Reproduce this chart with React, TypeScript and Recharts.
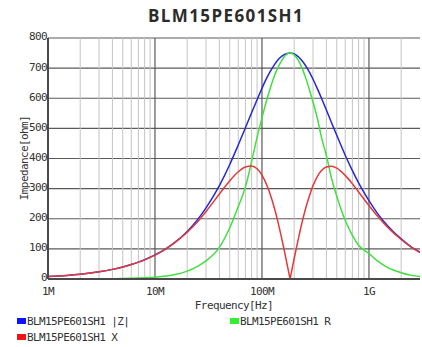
import React from 'react';
import { LineChart, Line, XAxis, YAxis, CartesianGrid, ReferenceLine } from 'recharts';

const title = 'BLM15PE601SH1';
const seriesNames = ['BLM15PE601SH1 |Z|', 'BLM15PE601SH1 R', 'BLM15PE601SH1 X'];

// frequency in MHz
const freqMHz = [1, 1.5, 2, 3, 4, 5, 6, 7, 8, 10, 12, 15, 20, 25, 30, 40, 50, 60, 70, 80, 90, 100, 110, 120, 130, 140, 150, 160, 170, 176, 180, 183, 186, 190, 200, 220, 240, 260, 280, 300, 330, 360, 400, 450, 500, 600, 700, 800, 1000, 1200, 1500, 2000, 2500, 3000];

const zValues = [8, 12, 16, 24, 32, 40, 48, 56, 64, 80, 95, 119, 158, 197, 236, 310, 380, 445, 502, 552, 595, 633, 665, 690, 710, 726, 737, 744, 748, 749.5, 750, 750, 750, 749.5, 747, 737, 722, 704, 684, 663, 631, 600, 561, 516, 477, 411, 360, 319, 260, 218, 176, 133, 106, 89];

const rValues = [0.1, 0.2, 0.3, 0.6, 1, 1.5, 2.2, 3, 4, 6, 9, 14, 26, 42, 60, 105, 170, 240, 305, 390, 470, 535, 590, 635, 672, 700, 720, 736, 746, 749, 750, 750, 750, 749, 744, 724, 695, 661, 624, 587, 532, 470, 410, 330, 275, 195, 145, 112, 85, 60, 38, 21, 12, 8.5];

const xValues = [8, 12, 16, 24, 32, 40, 48, 56, 63.6, 79, 95, 118, 155, 190, 224, 282, 326, 356, 372, 375, 366, 345, 315, 279, 238, 194, 148, 102, 56.5, 30, 12.7, 0, 12.5, 29, 68, 137.5, 196, 243, 280, 310, 341, 360, 372, 374.5, 368, 344, 316, 289, 244, 209, 171, 131, 105, 88];

const xTicks = [1e6, 1e7, 1e8, 1e9];
const xTickLabels = ['1M', '10M', '100M', '1G'];
const yTicks = [0, 100, 200, 300, 400, 500, 600, 700, 800];
const minorMultipliers = [2, 3, 4, 5, 6, 7, 8, 9];

const data = freqMHz.map((f, i) => ({ f: f * 1e6, z: zValues[i], r: rValues[i], x: xValues[i] }));

const minorLines: number[] = [];
[1e6, 1e7, 1e8, 1e9].forEach((d) => {
  minorMultipliers.forEach((m) => {
    const v = d * m;
    if (v < 3e9) minorLines.push(v);
  });
});

const MONO = '"DejaVu Sans Mono", "Liberation Mono", monospace';
const textColor = '#333';

const colors = { z: '#2626d6', r: '#3fe03f', x: '#e23a3a' };
const legendColors = { z: '#0a14ff', r: '#30f030', x: '#f01414' };

export default function App() {
  const xTickStyle = { fontFamily: MONO, fontSize: 11, fill: textColor, letterSpacing: -0.6 } as any;
  const yTickStyle = { fontFamily: MONO, fontSize: 11, fill: textColor, letterSpacing: -0.6, dy: -1.5 } as any;
  return (
    <div style={{ position: 'absolute', left: 0, top: 0, width: 422, height: 347, background: '#fff', overflow: 'hidden' }}>
      <div style={{ position: 'absolute', left: 0, top: 4, width: 452, textAlign: 'center', fontFamily: '"Open Sans", sans-serif', fontWeight: 700, fontSize: 17, letterSpacing: 1.4, color: '#2b2b2b', lineHeight: '24px' }}>
        {title}
      </div>
      <LineChart width={422} height={347} data={data} margin={{ top: 38, right: 2, bottom: 44, left: 0 }}>
        <CartesianGrid horizontal={true} vertical={false} stroke="#5a5a5a" strokeWidth={1.2} />
        {minorLines.map((v) => (
          <ReferenceLine key={'m' + v} x={v} stroke="#c4c4c4" strokeWidth={1} />
        ))}
        {[1e7, 1e8, 1e9].map((v) => (
          <ReferenceLine key={'M' + v} x={v} stroke="#5a5a5a" strokeWidth={1.2} />
        ))}
        <XAxis
          dataKey="f"
          type="number"
          scale="log"
          domain={[1e6, 3e9]}
          ticks={xTicks}
          tickFormatter={(v: number) => xTickLabels[xTicks.indexOf(v)] ?? ''}
          tickLine={false}
          tickSize={0}
          tickMargin={8}
          axisLine={{ stroke: '#4a4a4a', strokeWidth: 2 }}
          height={24}
          tick={xTickStyle}
          allowDataOverflow
          interval={0}
        />
        <YAxis
          type="number"
          domain={[0, 800]}
          ticks={yTicks}
          tickLine={false}
          tickSize={0}
          tickMargin={1}
          axisLine={{ stroke: '#4a4a4a', strokeWidth: 2 }}
          width={48}
          tick={yTickStyle}
          interval={0}
        />
        <Line type="monotone" dataKey="z" stroke={colors.z} strokeWidth={1.5} dot={false} isAnimationActive={false} />
        <Line type="monotone" dataKey="r" stroke={colors.r} strokeWidth={1.5} dot={false} isAnimationActive={false} />
        <Line type="monotone" dataKey="x" stroke={colors.x} strokeWidth={1.5} dot={false} isAnimationActive={false} />
      </LineChart>
      <div style={{ position: 'absolute', left: 13, top: 158, width: 24, height: 0 }}>
        <div style={{ position: 'absolute', left: -60, top: -8, width: 144, textAlign: 'center', transform: 'rotate(-90deg)', fontFamily: MONO, fontSize: 11, letterSpacing: -0.6, color: textColor, lineHeight: '16px' }}>
          Impedance[ohm]
        </div>
      </div>
      <div style={{ position: 'absolute', left: 134, top: 299, width: 200, textAlign: 'center', fontFamily: MONO, fontSize: 11, letterSpacing: -0.6, color: textColor, lineHeight: '14px' }}>
        Frequency[Hz]
      </div>
      {[
        { name: seriesNames[0], color: legendColors.z, left: 17, top: 313 },
        { name: seriesNames[1], color: legendColors.r, left: 230, top: 313 },
        { name: seriesNames[2], color: legendColors.x, left: 17, top: 329 },
      ].map((it) => (
        <div key={it.name} style={{ position: 'absolute', left: it.left, top: it.top, height: 16, display: 'flex', alignItems: 'center', fontFamily: MONO, fontSize: 11, letterSpacing: -0.6, color: textColor, whiteSpace: 'pre' }}>
          <span style={{ display: 'inline-block', width: 9, height: 6, background: it.color, marginRight: 1 }} />
          <span>{it.name}</span>
        </div>
      ))}
    </div>
  );
}
